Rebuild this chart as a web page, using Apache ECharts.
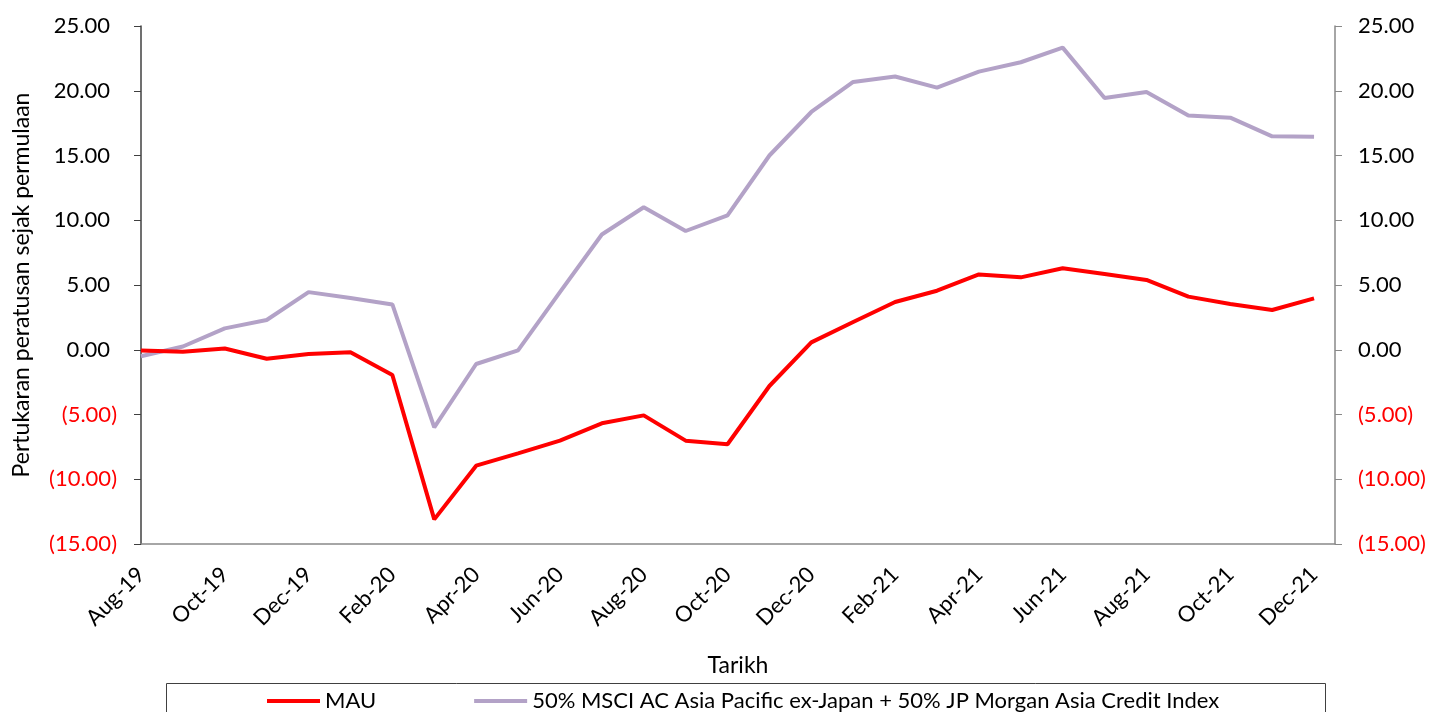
<!DOCTYPE html>
<html><head><meta charset="utf-8">
<script src="https://cdn.jsdelivr.net/npm/echarts@6/dist/echarts.min.js"></script>
<style>html,body{margin:0;padding:0;background:#fff}#c{width:1430px;height:712px}</style>
</head><body><div id="c"></div>
<script>
const months = ['Aug-19','Sep-19','Oct-19','Nov-19','Dec-19','Jan-20','Feb-20','Mar-20','Apr-20','May-20','Jun-20','Jul-20','Aug-20','Sep-20','Oct-20','Nov-20','Dec-20','Jan-21','Feb-21','Mar-21','Apr-21','May-21','Jun-21','Jul-21','Aug-21','Sep-21','Oct-21','Nov-21','Dec-21'];
const mau = [-0.05,-0.15,0.1,-0.7,-0.33,-0.2,-1.95,-13.1,-8.95,-8.0,-7.02,-5.68,-5.07,-7.02,-7.3,-2.8,0.57,2.14,3.69,4.56,5.82,5.59,6.29,5.85,5.39,4.1,3.53,3.07,3.97];
const bench = [-0.5,0.25,1.65,2.3,4.45,4.0,3.5,-6.0,-1.1,-0.05,4.45,8.9,11.0,9.17,10.38,15.0,18.36,20.68,21.1,20.24,21.48,22.2,23.33,19.44,19.9,18.08,17.92,16.48,16.45];
const seriesNames = ['MAU','50% MSCI AC Asia Pacific ex-Japan + 50% JP Morgan Asia Credit Index'];
const yMin = -15, yMax = 25, yStep = 5;

const font = 'Lato, "Open Sans", sans-serif';
const fs = 22;
function yFmt(v){
  if (v < 0) return '{neg|(' + Math.abs(v).toFixed(2) + ')}';
  return '{pos|' + v.toFixed(2) + '}';
}
const richL = {neg:{color:'#FF0000',fontSize:fs,fontFamily:font}, pos:{color:'#000',fontSize:fs,fontFamily:font,padding:[0,7,0,0]}};
const richR = {neg:{color:'#FF0000',fontSize:fs,fontFamily:font}, pos:{color:'#000',fontSize:fs,fontFamily:font}};
const chart = echarts.init(document.getElementById('c'), null, {renderer:'canvas'});
chart.setOption({
  animation:false,
  backgroundColor:'#fff',
  grid:{left:141,right:95,top:26,bottom:168,containLabel:false},
  xAxis:{type:'value',min:0,max:28.5,interval:2,
    name:'Tarikh',nameLocation:'middle',nameGap:110,
    nameTextStyle:{color:'#000',fontSize:23,fontFamily:font},
    axisLine:{show:true,onZero:false,lineStyle:{color:'#898989',width:1.5}},
    axisTick:{show:false},splitLine:{show:false},
    axisLabel:{rotate:45,showMaxLabel:false,color:'#000',fontSize:fs,fontFamily:font,margin:27,
      formatter:function(v){return months[Math.round(v)]||'';}}
  },
  yAxis:[
    {type:'value',min:yMin,max:yMax,interval:yStep,position:'left',
     name:'Pertukaran peratusan sejak permulaan',nameLocation:'middle',nameGap:108,
     nameTextStyle:{color:'#000',fontSize:23,fontFamily:font},
     axisLine:{show:true,onZero:false,lineStyle:{color:'#404040',width:1.5}},
     axisTick:{show:true,inside:false,length:7,lineStyle:{color:'#404040'}},
     splitLine:{show:false},
     axisLabel:{formatter:yFmt,rich:richL,margin:24}},
    {type:'value',min:yMin,max:yMax,interval:yStep,position:'right',
     axisLine:{show:true,onZero:false,lineStyle:{color:'#898989',width:1.5}},
     axisTick:{show:true,length:7,lineStyle:{color:'#898989'}},
     splitLine:{show:false},
     axisLabel:{formatter:yFmt,rich:richR,margin:23}}
  ],
  legend:{left:262,top:685,itemWidth:53,itemHeight:4,itemGap:98,icon:'rect',
    textStyle:{color:'#000',fontSize:fs,fontFamily:font},
    data:seriesNames},
  graphic:[{type:'rect',shape:{x:166.5,y:683.5,width:1159,height:40},style:{fill:'none',stroke:'#404040',lineWidth:1},silent:true}],
  series:[
    {name:seriesNames[0],type:'line',symbol:'none',yAxisIndex:0,z:3,
     lineStyle:{color:'#FF0000',width:4},itemStyle:{color:'#FF0000'},
     data:mau.map((v,i)=>[i,v])},
    {name:seriesNames[1],type:'line',symbol:'none',yAxisIndex:0,z:2,
     lineStyle:{color:'#B3A2C7',width:4},itemStyle:{color:'#B3A2C7'},
     data:bench.map((v,i)=>[i,v])}
  ]
});
</script></body></html>
